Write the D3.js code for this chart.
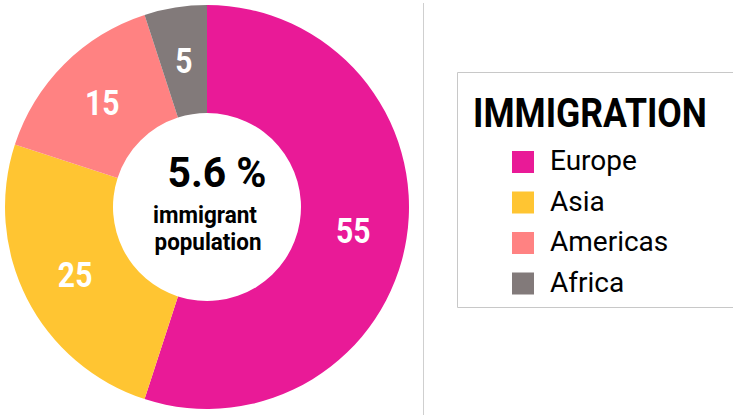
<!DOCTYPE html>
<html>
<head>
<meta charset="utf-8">
<script src="https://cdn.jsdelivr.net/npm/d3@7"></script>
<style>
  body { margin: 0; background: #fff; }
  svg { display: block; font-family: Roboto, "Liberation Sans", sans-serif; }
</style>
</head>
<body>
<svg id="chart" width="733" height="418"></svg>
<script>
// data
const regions = ["Europe", "Asia", "Americas", "Africa"]
const shares = [55, 25, 15, 5]
const colors = ["#e91a97", "#ffc532", "#ff8282", "#827a7a"]
const legendTitle = "IMMIGRATION"
const centerValue = "5.6 %"
const centerLines = ["immigrant", "population"]

const svg = d3.select("#chart")

const cx = 207, cy = 207
const outerR = 202, innerR = 94

const color = d3.scaleOrdinal().domain(regions).range(colors)

const pie = d3.pie().sort(null).value(d => d.value)
const arcs = pie(regions.map((r, i) => ({region: r, value: shares[i]})))

const arc = d3.arc().innerRadius(innerR).outerRadius(outerR)

// squeeze a text horizontally to a target width (fakes a condensed face)
function fitWidth(sel, w, x, y) {
    const natural = sel.node().getComputedTextLength()
    sel.attr("transform", `translate(${x},${y}) scale(${w / natural},1)`)
}

const donut = svg.append("g").attr("transform", `translate(${cx},${cy})`)

donut.selectAll("path")
    .data(arcs)
    .join("path")
        .attr("d", arc)
        .attr("fill", d => color(d.data.region))

// slice labels
donut.selectAll("text.slice")
    .data(arcs)
    .join("text")
        .attr("class", "slice")
        .attr("transform", d => `translate(${arc.centroid(d)}) scale(0.86,1)`)
        .attr("dy", "0.36em")
        .attr("text-anchor", "middle")
        .attr("fill", "#fff")
        .attr("font-weight", 700)
        .attr("font-size", 35)
        .text(d => d.data.value)

// center text
donut.append("text")
    .attr("text-anchor", "middle")
    .attr("font-weight", 700)
    .attr("font-size", 43)
    .attr("fill", "#000")
    .text(centerValue)
    .call(fitWidth, 99, 10, -20)

const subWidths = [104, 107]
donut.selectAll("text.sub")
    .data(centerLines)
    .join("text")
        .attr("class", "sub")
        .attr("text-anchor", "middle")
        .attr("font-weight", 700)
        .attr("font-size", 23)
        .attr("fill", "#000")
        .text(d => d)
        .each(function(d, i) {
            fitWidth(d3.select(this), subWidths[i], i === 0 ? -2 : 1, 16 + i * 27)
        })

// divider
svg.append("line")
    .attr("x1", 423.5).attr("x2", 423.5)
    .attr("y1", 3).attr("y2", 415)
    .attr("stroke", "#cfcfcf")
    .attr("stroke-width", 1)

// legend box, open at the right edge of the page
const legend = svg.append("g").attr("transform", "translate(457,72)")

legend.append("path")
    .attr("d", "M276,0.5H0.5V235.5H276")
    .attr("fill", "none")
    .attr("stroke", "#c8c8c8")

legend.append("text")
    .attr("font-weight", 700)
    .attr("font-size", 40)
    .attr("fill", "#000")
    .text(legendTitle)
    .call(fitWidth, 234, 16, 55)

const rows = legend.selectAll("g.row")
    .data(regions)
    .join("g")
        .attr("class", "row")
        .attr("transform", (d, i) => `translate(55,${79 + i * 40.5})`)

rows.append("rect")
    .attr("width", 22).attr("height", 22)
    .attr("fill", d => color(d))

rows.append("text")
    .attr("x", 38)
    .attr("y", 19)
    .attr("font-size", 28)
    .attr("fill", "#000")
    .text(d => d)
</script>
</body>
</html>
